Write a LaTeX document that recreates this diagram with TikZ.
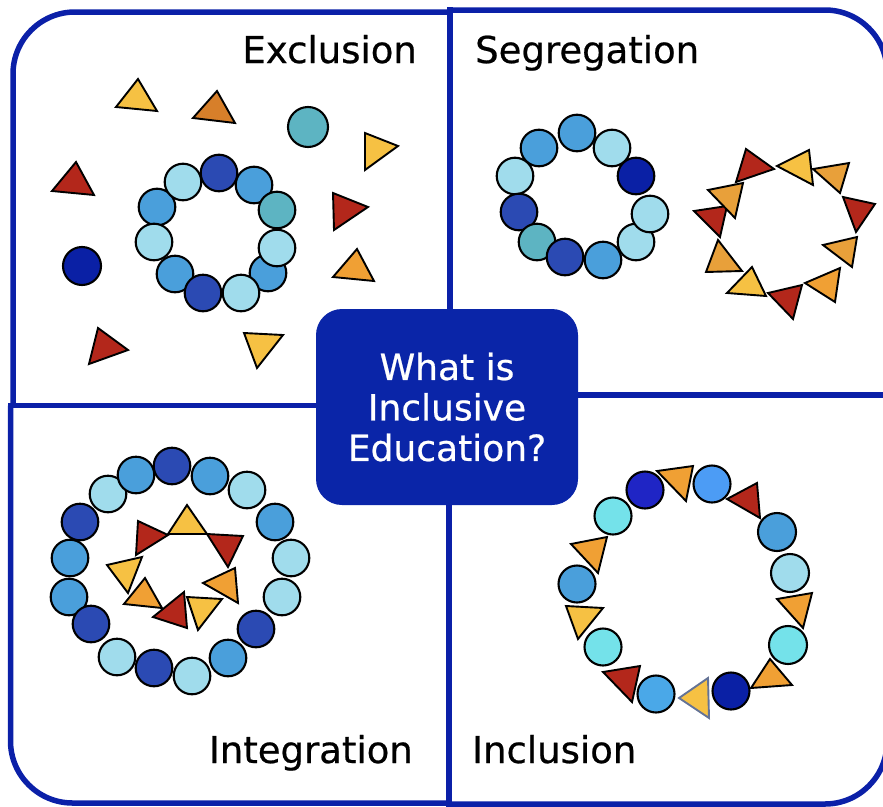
\documentclass[tikz,border=0pt]{standalone}
\usepackage{fontspec}
\setmainfont{DejaVu Sans}
\definecolor{frameblue}{HTML}{0B20A8}
\definecolor{boxblue}{HTML}{0A25A8}
\definecolor{lightb}{HTML}{A0DCEC}
\definecolor{medb}{HTML}{4A9FDB}
\definecolor{darkb}{HTML}{2B4AB3}
\definecolor{navyb}{HTML}{0A20A5}
\definecolor{violb}{HTML}{1F25C5}
\definecolor{tealb}{HTML}{5DB4C2}
\definecolor{cyanb}{HTML}{74E2EA}
\definecolor{brightb}{HTML}{4C9CF5}
\definecolor{skyb}{HTML}{4AA8E8}
\definecolor{yel}{HTML}{F6C143}
\definecolor{ora}{HTML}{F0A034}
\definecolor{amb}{HTML}{E8A03A}
\definecolor{dora}{HTML}{D77F2A}
\definecolor{redt}{HTML}{B3271B}
\newcommand\mycirc[4]{\filldraw[disc, fill=#1] (#2,#3) circle[radius=#4pt];}
\newcommand\mytri[7]{\filldraw[tri, fill=#1] (#2,#3) -- (#4,#5) -- (#6,#7) -- cycle;}
\begin{document}
\begin{tikzpicture}[x=1pt,y=-1pt,
  frame/.style={draw=frameblue, line width=5.5pt},
  disc/.style={draw=black, line width=2.1pt},
  tri/.style={draw=black, line width=1.9pt, line join=miter},
  lab/.style={inner sep=0pt, font={\fontsize{37}{44}\selectfont\addfontfeature{FakeBold=0.6}}},
  centerbox/.style={fill=boxblue, rounded corners=26pt, minimum width=262pt, minimum height=196pt, text=white, align=center, inner sep=0pt, font={\fontsize{36}{40.5}\selectfont\addfontfeature{FakeBold=0.6}}}]
\useasboundingbox (0,0) rectangle (883,806);
% frame
\draw[frame, rounded corners=62] (450,12) -- (13,12) -- (13,405.5);
\draw[frame, rounded corners=62] (450,10) -- (887,10) -- (887,395);
\draw[frame, rounded corners=62] (10.5,405.5) -- (10.5,803) -- (449,803);
\draw[frame, rounded corners=62] (449,804) -- (887,804) -- (887,395);
\draw[frame, line cap=rect] (450,10) -- (450,330);
\draw[frame, line cap=rect] (449,480) -- (449,804);
\draw[frame, line cap=rect] (10.5,405.5) -- (340,405.5);
\draw[frame, line cap=rect] (560,395) -- (887,395);
% labels
\node[lab, anchor=base east] (lexc) at (417,63) {Exclusion};
\node[lab, anchor=base west] (lseg) at (475,63) {Segregation};
\node[lab, anchor=base east] (lint) at (413,763) {Integration};
\node[lab, anchor=base west] (linc) at (472,763) {Inclusion};
% ---- Exclusion
\mytri{yel}{138}{79}{116}{107}{157}{111}
\mytri{dora}{217}{91}{193}{118}{235}{123}
\mycirc{tealb}{308}{127}{20}
\mytri{yel}{365}{133}{398}{146}{365}{170}
\mytri{redt}{76}{162}{52}{191}{94}{195}
\mytri{redt}{333}{193}{368}{207}{334}{230}
\mytri{ora}{357}{249}{333}{277}{374}{281}
\mycirc{navyb}{82}{266}{19}
\mytri{redt}{98}{328}{89}{364}{128}{350}
\mytri{yel}{244}{333}{283}{335}{257}{368}
\mycirc{medb}{157}{207}{18.3}
\mycirc{lightb}{183}{182}{18.3}
\mycirc{medb}{254}{185}{18.3}
\mycirc{darkb}{219}{173}{18.3}
\mycirc{tealb}{277}{210}{18.3}
\mycirc{medb}{268}{273}{18.3}
\mycirc{lightb}{277}{248}{18.3}
\mycirc{lightb}{154}{242}{18.3}
\mycirc{medb}{175}{274}{18.3}
\mycirc{darkb}{203}{293}{18.3}
\mycirc{lightb}{241}{293}{18.3}
% ---- Segregation circles
\mycirc{medb}{577}{133}{18.3}
\mycirc{medb}{539}{148}{18.3}
\mycirc{lightb}{612}{148}{18.3}
\mycirc{navyb}{636}{176}{18.3}
\mycirc{lightb}{515}{176}{18.3}
\mycirc{darkb}{519}{212}{18.3}
\mycirc{lightb}{636}{242}{18.3}
\mycirc{lightb}{650}{214}{18.3}
\mycirc{tealb}{537}{242}{18.3}
\mycirc{darkb}{565}{257}{18.3}
\mycirc{medb}{603}{260}{18.3}
% ---- Segregation triangles
\mytri{redt}{746}{149}{774}{169}{736}{182}
\mytri{yel}{809}{150}{777}{166}{813}{185}
\mytri{amb}{813}{169}{849}{163}{840}{193}
\mytri{redt}{843}{197}{875}{204}{856}{232}
\mytri{amb}{823}{245}{857}{237}{852}{267}
\mytri{ora}{805}{283}{840}{268}{835}{302}
\mytri{redt}{768}{293}{802}{285}{793}{319}
\mytri{yel}{752}{267}{727}{293}{766}{296}
\mytri{amb}{718}{240}{706}{272}{742}{271}
\mytri{redt}{694}{211}{727}{206}{720}{237}
\mytri{amb}{708}{190}{743}{183}{735}{218}
% ---- Integration circles
\mycirc{lightb}{108}{494}{18.3}
\mycirc{medb}{136}{475}{18.3}
\mycirc{darkb}{172}{466}{18.3}
\mycirc{medb}{210}{476}{18.3}
\mycirc{lightb}{247}{490}{18.3}
\mycirc{medb}{275}{522}{18.3}
\mycirc{lightb}{291}{558}{18.3}
\mycirc{lightb}{282}{597}{18.3}
\mycirc{darkb}{256}{629}{18.3}
\mycirc{medb}{228}{658}{18.3}
\mycirc{darkb}{80}{522}{18.3}
\mycirc{medb}{70}{558}{18.3}
\mycirc{medb}{69}{597}{18.3}
\mycirc{darkb}{91}{624}{18.3}
\mycirc{lightb}{117}{657}{18.3}
\mycirc{darkb}{154}{668}{18.3}
\mycirc{lightb}{192}{676}{18.3}
% ---- Integration triangles
\mytri{yel}{187}{505}{168}{534}{207}{534}
\mytri{redt}{138}{521}{136}{555}{168}{535}
\mytri{redt}{207}{534}{243}{536}{228}{567}
\mytri{yel}{107}{565}{142}{557}{128}{593}
\mytri{ora}{203}{583}{235}{568}{238}{603}
\mytri{ora}{145}{578}{124}{604}{162}{608}
\mytri{redt}{184}{592}{153}{617}{187}{628}
\mytri{yel}{187}{597}{222}{599}{198}{630}
% ---- Inclusion ring
\mycirc{violb}{645}{490}{18.5}
\mytri{ora}{657}{471}{693}{466}{686}{501}
\mycirc{brightb}{712}{484}{18.5}
\mytri{redt}{727}{499}{757}{483}{760}{518}
\mycirc{medb}{777}{532}{19}
\mycirc{lightb}{790}{573}{19}
\mytri{ora}{777}{599}{812}{593}{803}{628}
\mycirc{cyanb}{788}{645}{19}
\mytri{ora}{770}{659}{751}{688}{792}{685}
\mycirc{navyb}{731}{691}{18.5}
\filldraw[tri, draw={rgb,255:red,100;green,115;blue,150}, fill=yel] (708,678) -- (679,698) -- (709,718) -- cycle;
\mycirc{skyb}{656}{694}{18.5}
\mytri{redt}{603}{672}{640}{666}{632}{702}
\mycirc{cyanb}{603}{647}{18.5}
\mytri{yel}{566}{606}{603}{608}{578}{639}
\mycirc{medb}{577}{584}{18.5}
\mytri{ora}{571}{544}{607}{537}{598}{573}
\mycirc{cyanb}{613}{516}{18.5}
% ---- centre box
\node[centerbox] (q) at (447,407) {What is\\Inclusive\\Education?};
\end{tikzpicture}
\end{document}
